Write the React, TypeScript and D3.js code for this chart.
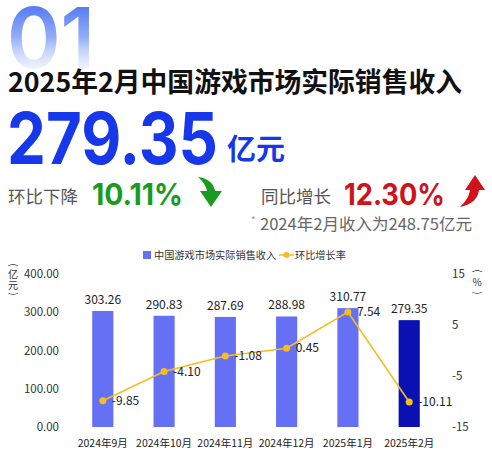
import React from 'react';
import * as d3 from 'd3';

const months = ['2024年9月', '2024年10月', '2024年11月', '2024年12月', '2025年1月', '2025年2月'];
const revenue = [303.26, 290.83, 287.69, 288.98, 310.77, 279.35];
const momRate = [-9.85, -4.10, -1.08, 0.45, 7.54, -10.11];
const leftTicks = [0, 100, 200, 300, 400];
const rightTicks = [-15, -5, 5, 15];

const W = 492;
const H = 462;
const FONT = '"Noto Sans CJK SC", "Noto Sans", sans-serif';
const NUMFONT = '"Inter", "Noto Sans CJK SC", sans-serif';

const App: React.FC = () => {
  const plot = { left: 72, right: 440, top: 274, bottom: 427 };

  const x = d3.scaleBand<string>()
    .domain(months)
    .range([plot.left, plot.right])
    .paddingInner(0.655)
    .paddingOuter(0.33);
  const yL = d3.scaleLinear().domain([0, 400]).range([plot.bottom, plot.top]);
  const yR = d3.scaleLinear().domain([-15, 15]).range([plot.bottom, plot.top]);

  const cx = (m: string) => (x(m) ?? 0) + x.bandwidth() / 2;

  const line = d3.line<number>()
    .x((_, i) => cx(months[i]))
    .y((d) => yR(d));

  return (
    <svg
      width={W}
      height={H}
      viewBox={`0 0 ${W} ${H}`}
      style={{ position: 'absolute', left: 0, top: 0, background: '#fff' }}
      fontFamily={FONT}
    >
      <defs>
        <linearGradient id="numGrad" x1="0" y1="0" x2="0" y2="1">
          <stop offset="0%" stopColor="#2556f0" stopOpacity={1} />
          <stop offset="50%" stopColor="#6f92f6" stopOpacity={0.75} />
          <stop offset="100%" stopColor="#ffffff" stopOpacity={0} />
        </linearGradient>
      </defs>

      {/* big background index */}
      <text x={7} y={68} fontSize={84} fontWeight={600} fill="url(#numGrad)" fontFamily={NUMFONT} textLength={88} lengthAdjust="spacingAndGlyphs">
        01
      </text>

      <text x={8} y={92} fontSize={27} fontWeight={700} fill="#111" textLength={454} lengthAdjust="spacingAndGlyphs">
        2025年2月中国游戏市场实际销售收入
      </text>

      <text x={7} y={164} fontSize={71} fontWeight={700} fill="#1637ea" fontFamily={NUMFONT} textLength={211} lengthAdjust="spacingAndGlyphs">
        279.35
      </text>
      <text x={227} y={160} fontSize={29} fontWeight={700} fill="#1637ea">
        亿元
      </text>

      <text x={8} y={203} fontSize={17.5} fill="#555">环比下降</text>
      <text x={92} y={205} fontSize={30} fontWeight={700} fill="#1a9a1f" fontFamily={NUMFONT} textLength={91} lengthAdjust="spacingAndGlyphs">10.11%</text>
      <path
        d="M198,177 C207,178 214,183 215,191 L222,191 L211,207 L200,191 L207,191 C206,186 203,181 198,177 Z"
        fill="#1a9a1f"
      />

      <text x={261} y={203} fontSize={17.5} fill="#555">同比增长</text>
      <text x={344} y={205} fontSize={30} fontWeight={700} fill="#d0121b" fontFamily={NUMFONT} textLength={101} lengthAdjust="spacingAndGlyphs">12.30%</text>
      <path
        d="M475,175 L485,190 L479,190 C478,199 471,205 460,207 C465,202 469,197 470,190 L465,190 Z"
        fill="#d0121b"
      />

      <text x={251} y={224} fontSize={10} fill="#999">*</text>
      <text x={260} y={230} fontSize={16} fill="#666" textLength={212} lengthAdjust="spacingAndGlyphs">2024年2月收入为248.75亿元</text>

      {/* legend */}
      <rect x={143} y={251} width={8} height={8} fill="#6670f4" />
      <text x={154} y={259} fontSize={10.2} fill="#333">中国游戏市场实际销售收入</text>
      <line x1={279} x2={294} y1={255} y2={255} stroke="#f5bd1f" strokeWidth={1.5} />
      <circle cx={286.5} cy={255} r={3} fill="#f5bd1f" />
      <text x={295} y={259} fontSize={10.2} fill="#333">环比增长率</text>

      {/* left axis */}
      {leftTicks.map((t) => (
        <text key={t} x={59} y={yL(t)} dy="0.35em" textAnchor="end" fontSize={11.5} fill="#333">
          {t.toFixed(2)}
        </text>
      ))}
      <g fontSize={10} fill="#333" textAnchor="middle">
        <text x={13} y={265} transform="rotate(90 13 265)" dy="0.35em">(</text>
        <text x={13} y={274} dy="0.35em">亿</text>
        <text x={13} y={285} dy="0.35em">元</text>
        <text x={13} y={294} transform="rotate(90 13 294)" dy="0.35em">)</text>
      </g>

      {/* right axis */}
      {rightTicks.map((t) => (
        <text key={t} x={452} y={yR(t)} dy="0.35em" textAnchor="start" fontSize={11.5} fill="#333">
          {t}
        </text>
      ))}
      <g fontSize={10} fill="#333" textAnchor="middle">
        <text x={477} y={271} transform="rotate(90 477 271)" dy="0.35em">(</text>
        <text x={477} y={282} dy="0.35em">%</text>
        <text x={477} y={293} transform="rotate(90 477 293)" dy="0.35em">)</text>
      </g>

      {/* bars */}
      {revenue.map((v, i) => (
        <g key={months[i]}>
          <rect
            x={x(months[i])}
            y={yL(v)}
            width={x.bandwidth()}
            height={yL(0) - yL(v)}
            fill={i === revenue.length - 1 ? '#0b10b2' : '#6670f4'}
          />
          <text x={cx(months[i])} y={yL(v) - 7} textAnchor="middle" fontSize={12} fill="#222">
            {v.toFixed(2)}
          </text>
          <text x={cx(months[i])} y={447} textAnchor="middle" fontSize={10.5} fill="#222">
            {months[i]}
          </text>
        </g>
      ))}

      {/* growth line */}
      <path d={line(momRate) ?? ''} fill="none" stroke="#f5bd1f" strokeWidth={1.6} />
      {momRate.map((v, i) => (
        <g key={'p' + i}>
          <circle cx={cx(months[i])} cy={yR(v)} r={3.5} fill="#f5bd1f" />
          <text x={cx(months[i]) + 9} y={yR(v)} dy="0.35em" fontSize={12} fill="#222">
            {v.toFixed(2)}
          </text>
        </g>
      ))}
    </svg>
  );
};

export default App;
